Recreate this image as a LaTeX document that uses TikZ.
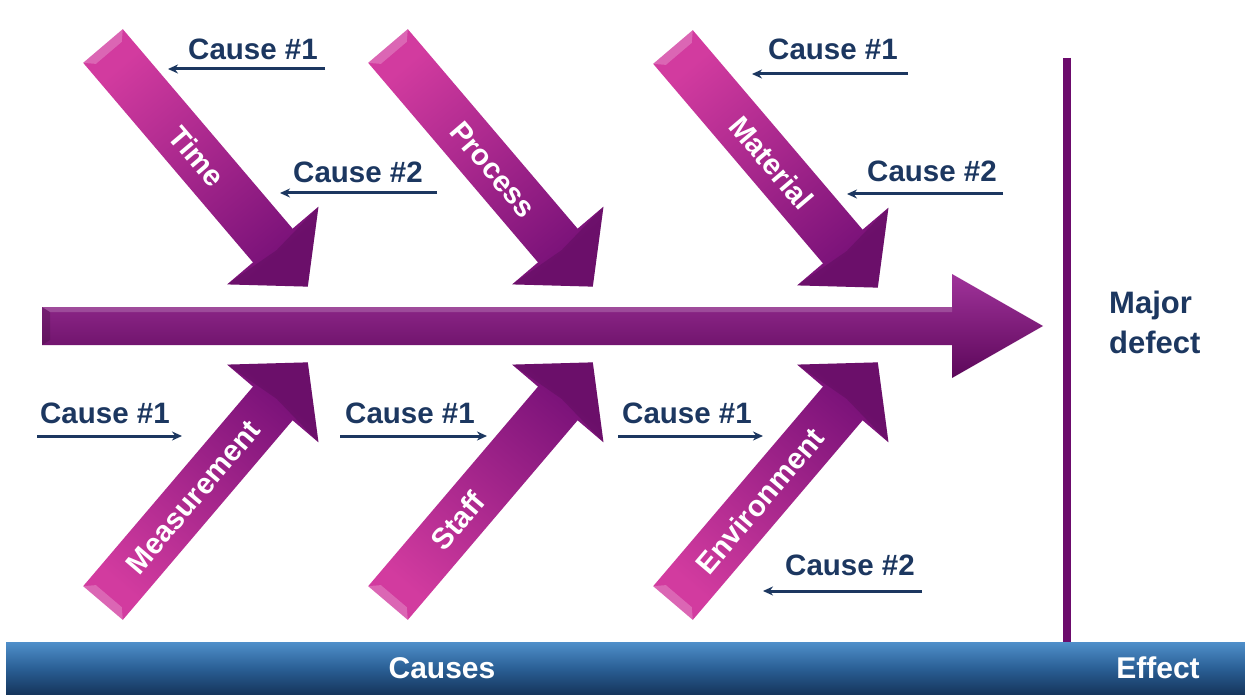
\documentclass[tikz,border=0pt]{standalone}
\usepackage{fontspec}
\setmainfont{Liberation Sans}
\usetikzlibrary{arrows.meta}
\definecolor{navy}{HTML}{1C3760}
\definecolor{armTail}{HTML}{D23B9F}
\definecolor{armHead}{HTML}{7A1279}
\definecolor{mainTop}{HTML}{A0339A}
\definecolor{mainMid}{HTML}{7E1476}
\definecolor{mainBot}{HTML}{5C075A}
\definecolor{spine}{HTML}{6C0B6C}
\definecolor{barTop}{HTML}{4F8FCA}
\definecolor{barMid}{HTML}{2A5F95}
\definecolor{barBot}{HTML}{15345A}
\tikzset{
  causetext/.style={font=\bfseries\fontsize{29.5}{34}\selectfont, text=navy, inner sep=0pt, anchor=base west},
  causearrow/.style={draw=navy, line width=3pt, -{Stealth[length=10pt,width=9pt]}},
  armtext/.style={font=\bfseries\fontsize{29.5}{32}\selectfont, text=white, inner sep=0pt},
  bartext/.style={font=\bfseries\fontsize{30}{34}\selectfont, text=white, inner sep=0pt, anchor=base},
  effecttext/.style={font=\bfseries\fontsize{31}{40}\selectfont, text=navy, inner sep=0pt, anchor=base west, align=left}
}
% #1 node name, #2 tail centre, #3 rotation, #4 shading angle, #5 label position along the arm, #6 label
\newcommand\fisharm[6]{%
  \begin{scope}[shift={#2}, rotate=#3]
    \shade[bottom color=armTail, top color=armHead, shading angle=#4]
      (0,-26) -- (262,-26) -- (262,-60) -- (316,0) -- (262,60) -- (262,26) -- (0,26) -- cycle;
    \fill[white, opacity=0.22] (0,-26) -- (9,-17) -- (9,17) -- (0,26) -- cycle;
    \fill[black, opacity=0.12] (262,-60) -- (316,0) -- (262,60) -- (268,0) -- cycle;
    \node[armtext, rotate=#3] (#1) at (#5,0) {#6};
  \end{scope}}
\begin{document}
\begin{tikzpicture}[x=1pt, y=-1pt]
\useasboundingbox (0,0) rectangle (1245,695);
\fill[white] (0,0) rectangle (1245,695);

% bottom bar
\shade[top color=barTop, bottom color=barBot, middle color=barMid] (6,642) rectangle (1245,695);
\node[bartext] (causes) at (442,678) {Causes};
\node[bartext] (effect) at (1158,678) {Effect};

% spine separating effect
\coordinate (sp1) at (1067,58);
\coordinate (sp2) at (1067,642);
\draw[spine, line width=8pt] (sp1) -- (sp2);
\node[effecttext] (defect) at (1109,353) {Major\\defect};

% main arrow
\shade[top color=mainTop, middle color=mainMid, bottom color=mainBot]
  (42,307) -- (952,307) -- (952,274) -- (1043,326) -- (952,378) -- (952,345) -- (42,345) -- cycle;
\fill[white, opacity=0.18] (42,307) -- (952,307) -- (952,312) -- (50,312) -- cycle;
\fill[black, opacity=0.15] (42,307) -- (50,312) -- (50,340) -- (42,345) -- cycle;

% upper arms
\fisharm{time}{(103,46)}{-49.6}{-140}{145}{Time}
\fisharm{process}{(388,46)}{-49.6}{-140}{162}{Process}
\fisharm{material}{(673,47)}{-49.6}{-140}{152}{Material}
% lower arms
\fisharm{measure}{(103,603)}{49.6}{-40}{139}{Measurement}
\fisharm{staff}{(388,603)}{49.6}{-40}{108}{Staff}
\fisharm{environ}{(673,603)}{49.6}{-40}{134}{Environment}

% causes, upper
\node[causetext] (tc1) at (188,60) {Cause \#1};
\coordinate (tc1a) at (325,69); \coordinate (tc1b) at (168,69);
\draw[causearrow] (tc1a) -- (tc1b);
\node[causetext] (tc2) at (293,183) {Cause \#2};
\coordinate (tc2a) at (437,193); \coordinate (tc2b) at (280,193);
\draw[causearrow] (tc2a) -- (tc2b);
\node[causetext] (mc1) at (768,60) {Cause \#1};
\coordinate (mc1a) at (908,74); \coordinate (mc1b) at (752,74);
\draw[causearrow] (mc1a) -- (mc1b);
\node[causetext] (mc2) at (867,182) {Cause \#2};
\coordinate (mc2a) at (1003,194); \coordinate (mc2b) at (847,194);
\draw[causearrow] (mc2a) -- (mc2b);

% causes, lower
\node[causetext] (msc1) at (40,423) {Cause \#1};
\coordinate (msc1a) at (37,436); \coordinate (msc1b) at (182,436);
\draw[causearrow] (msc1a) -- (msc1b);
\node[causetext] (sc1) at (345,423) {Cause \#1};
\coordinate (sc1a) at (340,436); \coordinate (sc1b) at (487,436);
\draw[causearrow] (sc1a) -- (sc1b);
\node[causetext] (ec1) at (622,423) {Cause \#1};
\coordinate (ec1a) at (618,436); \coordinate (ec1b) at (763,436);
\draw[causearrow] (ec1a) -- (ec1b);
\node[causetext] (ec2) at (785,575) {Cause \#2};
\coordinate (ec2a) at (922,591); \coordinate (ec2b) at (763,591);
\draw[causearrow] (ec2a) -- (ec2b);
\end{tikzpicture}
\end{document}
